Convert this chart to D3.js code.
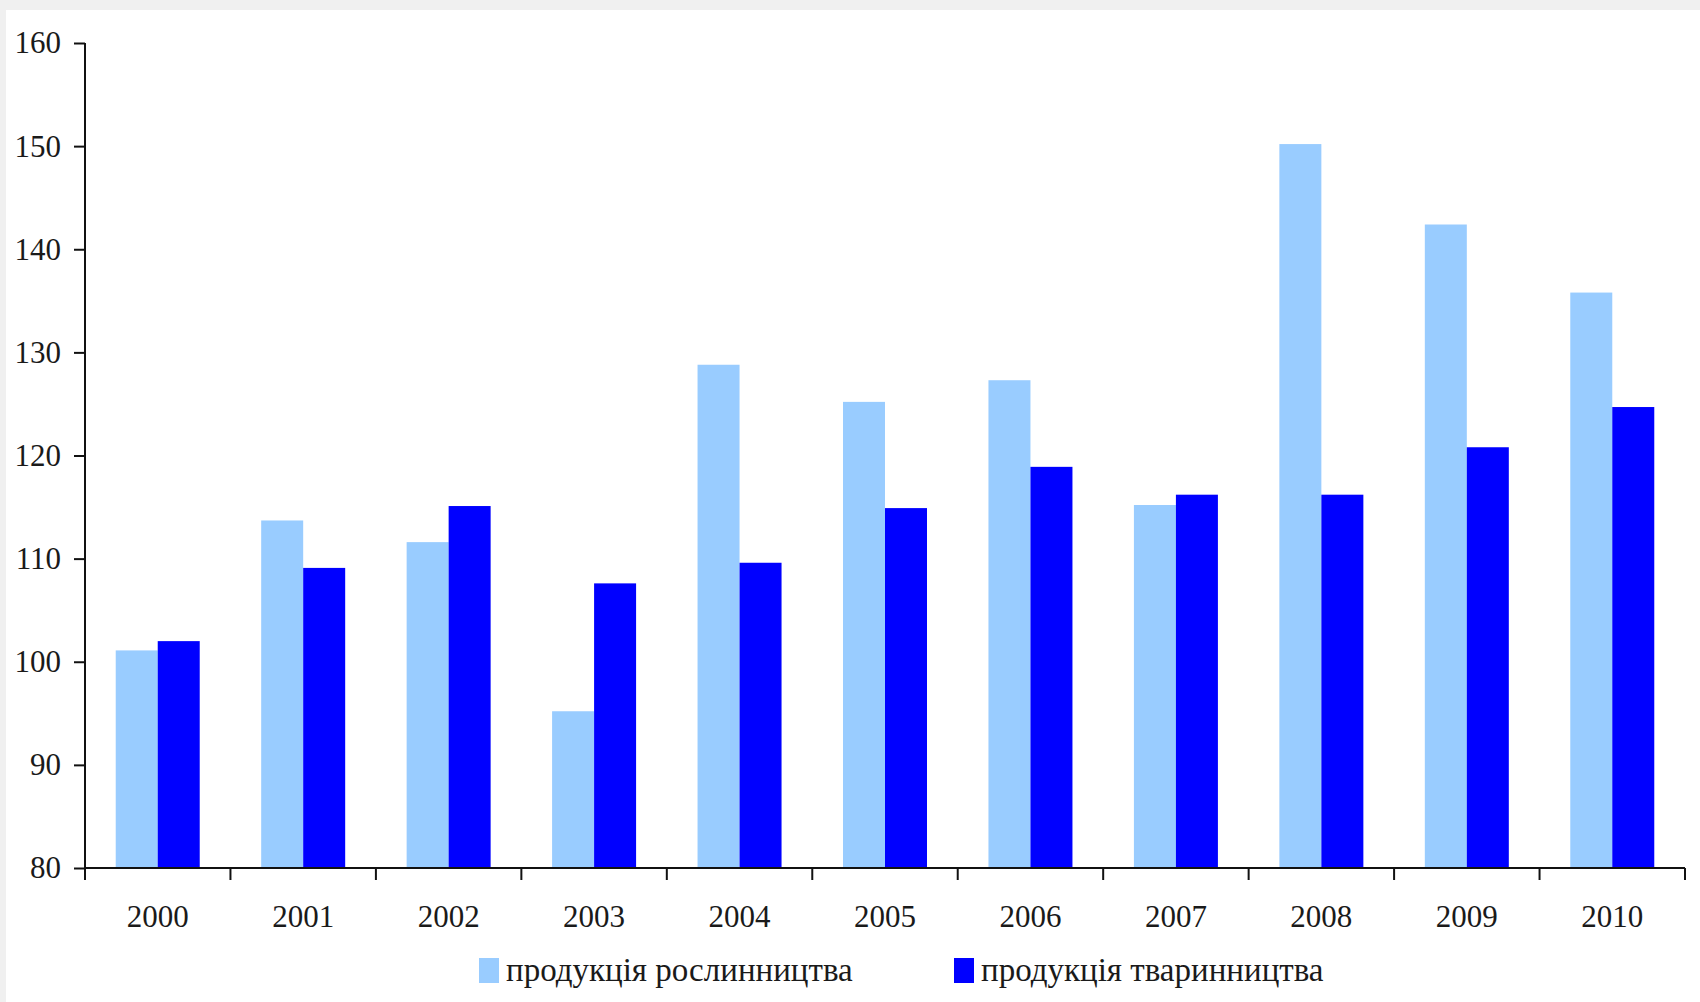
<!DOCTYPE html>
<html>
<head>
<meta charset="utf-8">
<script src="https://cdn.jsdelivr.net/npm/d3@7"></script>
<style>
  body { margin: 0; background: #f0f0f0; }
  svg { display: block; }
  text { font-family: "Liberation Serif", "Times New Roman", serif; fill: #1a1a1a; }
</style>
</head>
<body>
<svg id="chart" width="1700" height="1002"></svg>
<script>
// years and the two series (index, previous year = 100)
const years = ['2000', '2001', '2002', '2003', '2004', '2005', '2006', '2007', '2008', '2009', '2010'];
const crops = [101.1, 113.7, 111.6, 95.2, 128.8, 125.2, 127.3, 115.2, 150.2, 142.4, 135.8];
const livestock = [102.0, 109.1, 115.1, 107.6, 109.6, 114.9, 118.9, 116.2, 116.2, 120.8, 124.7];
const seriesNames = ['продукція рослинництва', 'продукція тваринництва'];
const seriesColors = ['#99ccff', '#0000ff'];
const yTicks = [80, 90, 100, 110, 120, 130, 140, 150, 160];

const svg = d3.select('#chart');
const mLeft = 85, mRight = 1685, mTop = 43, mBottom = 868;

// white plotting page with the gray frame on top/left
svg.append('rect').attr('x', 6).attr('y', 10).attr('width', 1694).attr('height', 992).attr('fill', '#fff');

const x = d3.scaleBand().domain(years).range([mLeft, mRight]).paddingInner(0).paddingOuter(0);
const groupW = 84;
const x1 = d3.scaleBand().domain([0, 1]).range([0, groupW]);
const y = d3.scaleLinear().domain([80, 160]).range([mBottom, mTop]);

const rows = years.map((yr, i) => ({ year: yr, vals: [crops[i], livestock[i]] }));

const g = svg.append('g');
const grp = g.selectAll('.grp')
  .data(rows)
  .enter()
  .append('g')
  .attr('transform', d => 'translate(' + (x(d.year) + (x.bandwidth() - groupW) / 2) + ',0)');

grp.selectAll('rect')
  .data(d => d.vals)
  .enter()
  .append('rect')
  .attr('x', (d, i) => x1(i))
  .attr('width', x1.bandwidth())
  .attr('y', d => y(d))
  .attr('height', d => mBottom - y(d))
  .attr('fill', (d, i) => seriesColors[i]);

// y axis
const yAxis = svg.append('g')
  .attr('transform', 'translate(' + mLeft + ',0)')
  .call(d3.axisLeft(y).tickValues(yTicks).tickSize(11).tickPadding(13));
yAxis.select('.domain').attr('stroke', '#111').attr('stroke-width', 2).attr('d', 'M0,' + mTop + 'V' + mBottom);
yAxis.selectAll('.tick line').attr('stroke', '#111').attr('stroke-width', 2);
yAxis.selectAll('text').style('font-size', '31px').attr('fill', '#1a1a1a');

// x axis: ticks sit on category boundaries
const xAxis = svg.append('g').attr('transform', 'translate(0,' + mBottom + ')');
xAxis.append('path')
  .attr('d', 'M' + mLeft + ',0H' + mRight)
  .attr('stroke', '#111').attr('stroke-width', 2);
const bounds = years.map(yr => x(yr)).concat([mRight]);
xAxis.selectAll('.bt')
  .data(bounds)
  .enter()
  .append('line')
  .attr('x1', d => d).attr('x2', d => d)
  .attr('y1', 0).attr('y2', 12)
  .attr('stroke', '#111').attr('stroke-width', 2);
xAxis.selectAll('.xl')
  .data(years)
  .enter()
  .append('text')
  .attr('x', d => x(d) + x.bandwidth() / 2)
  .attr('y', 59)
  .attr('text-anchor', 'middle')
  .style('font-size', '31px')
  .text(d => d);

// legend
const legX = [479, 954];
const leg = svg.selectAll('.leg')
  .data(seriesNames)
  .enter()
  .append('g')
  .attr('transform', (d, i) => 'translate(' + legX[i] + ',958)');
leg.append('rect').attr('width', 20).attr('height', 25).attr('fill', (d, i) => seriesColors[i]);
leg.append('text')
  .attr('x', 27).attr('y', 23)
  .style('font-size', '33px')
  .text(d => d);
</script>
</body>
</html>
